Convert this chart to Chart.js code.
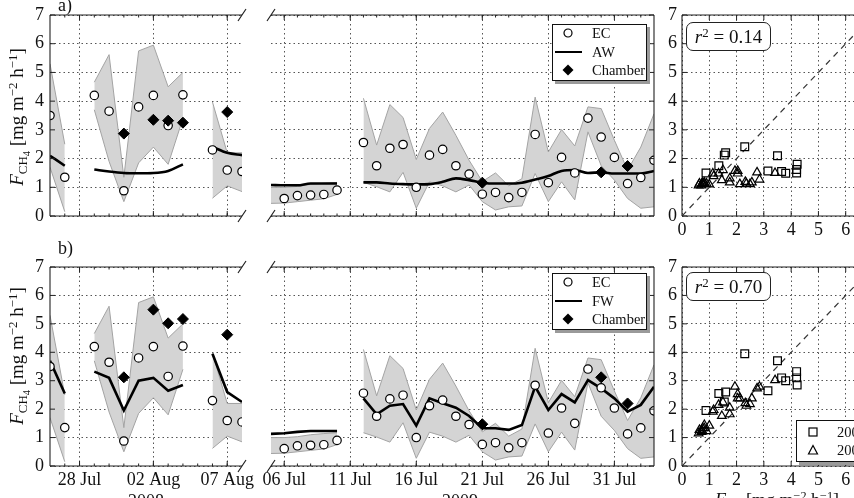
<!DOCTYPE html>
<html><head><meta charset="utf-8">
<script src="https://cdn.jsdelivr.net/npm/chart.js@4/dist/chart.umd.min.js"></script>
<style>
html,body{margin:0;padding:0;background:#fff;}
#wrap{position:relative;width:854px;height:498px;overflow:hidden;font-family:"Liberation Serif","DejaVu Serif",serif;color:#111;background:#fff;}
canvas{position:absolute;}
.t{position:absolute;white-space:nowrap;line-height:1;}
.ytitle{position:absolute;white-space:nowrap;line-height:1;font-size:19px;transform:translate(-50%,-50%) rotate(-90deg);}
sub,sup{font-size:0.68em;line-height:0;}
sub{vertical-align:-0.3em;}
sup{vertical-align:0.5em;}
sub sub{font-size:0.8em;}
.leg{position:absolute;background:#fff;border:1.3px solid #111;box-shadow:3px 3px 0 #9a9a9a;box-sizing:border-box;}
.lt{position:absolute;font-size:14.5px;line-height:16px;white-space:nowrap;}
.mk{position:absolute;}
.r2{position:absolute;border:1.3px solid #222;border-radius:7px;background:#fff;font-size:19px;text-align:center;line-height:27px;box-sizing:border-box;white-space:nowrap;}
</style></head><body>
<div id="wrap">
<canvas id="c1" width="262" height="240" style="left:0;top:0"></canvas>
<canvas id="c2" width="410" height="240" style="left:256px;top:0"></canvas>
<canvas id="c3" width="260" height="245" style="left:640px;top:0"></canvas>
<canvas id="c4" width="262" height="248" style="left:0;top:250px"></canvas>
<canvas id="c5" width="410" height="248" style="left:256px;top:250px"></canvas>
<canvas id="c6" width="260" height="248" style="left:640px;top:250px"></canvas>

<div class="t" style="left:58px;top:-4px;font-size:18px">a)</div>
<div class="t" style="left:58px;top:239px;font-size:18px">b)</div>
<div class="ytitle" style="left:17px;top:117px"><i>F</i><sub>CH<sub>4</sub></sub> [mg m<sup>−2</sup> h<sup>−1</sup>]</div>
<div class="ytitle" style="left:17px;top:356px"><i>F</i><sub>CH<sub>4</sub></sub> [mg m<sup>−2</sup> h<sup>−1</sup>]</div>
<div class="t" style="left:146px;top:492px;font-size:18px;transform:translateX(-50%)">2008</div>
<div class="t" style="left:460px;top:492px;font-size:18px;transform:translateX(-50%)">2009</div>
<div class="t" style="left:777px;top:491px;font-size:18px;transform:translateX(-50%)"><i>F</i><sub>EC</sub> [mg m<sup>−2</sup> h<sup>−1</sup>]</div>

<div class="leg" style="left:552px;top:24px;width:95px;height:57px"></div>
<svg class="mk" style="left:562px;top:27px" width="12" height="12"><circle cx="6" cy="6" r="4" fill="#fff" stroke="#000" stroke-width="1.2"/></svg>
<div class="mk" style="left:555px;top:50.5px;width:27px;height:2.6px;background:#000"></div>
<svg class="mk" style="left:562px;top:64px" width="12" height="12"><polygon points="6,0.5 11.5,6 6,11.5 0.5,6" fill="#000"/></svg>
<div class="lt" style="left:592px;top:25px">EC</div>
<div class="lt" style="left:592px;top:44px">AW</div>
<div class="lt" style="left:592px;top:62px">Chamber</div>

<div class="leg" style="left:552px;top:273px;width:95px;height:57px"></div>
<svg class="mk" style="left:562px;top:276px" width="12" height="12"><circle cx="6" cy="6" r="4" fill="#fff" stroke="#000" stroke-width="1.2"/></svg>
<div class="mk" style="left:555px;top:299.5px;width:27px;height:2.6px;background:#000"></div>
<svg class="mk" style="left:562px;top:313px" width="12" height="12"><polygon points="6,0.5 11.5,6 6,11.5 0.5,6" fill="#000"/></svg>
<div class="lt" style="left:592px;top:274px">EC</div>
<div class="lt" style="left:592px;top:293px">FW</div>
<div class="lt" style="left:592px;top:311px">Chamber</div>

<div class="leg" style="left:796px;top:420px;width:100px;height:42px"></div>
<svg class="mk" style="left:807px;top:425.5px" width="12" height="12"><rect x="2" y="2" width="8" height="8" fill="none" stroke="#000" stroke-width="1.2"/></svg>
<svg class="mk" style="left:807px;top:444px" width="12" height="12"><polygon points="6,1.5 10.5,10 1.5,10" fill="none" stroke="#000" stroke-width="1.2"/></svg>
<div class="lt" style="left:837px;top:423.5px">2008</div>
<div class="lt" style="left:837px;top:442px">2009</div>

<div class="r2" style="left:686px;top:22px;width:85px;height:29px"><i>r</i><sup>2</sup> = <span id="r2a"></span></div>
<div class="r2" style="left:686px;top:272px;width:85px;height:29px"><i>r</i><sup>2</sup> = <span id="r2b"></span></div>
</div>

<script>
// ---------------- data ----------------
const days2008 = [26, 27, 28, 29, 30, 31, 32, 33, 34, 35, 36, 37, 38, 39]; // July-day numbering (32 = 01 Aug)
const ec2008       = [3.50, 1.35, null, 4.20, 3.65, 0.88, 3.80, 4.20, 3.15, 4.22, null, 2.30, 1.60, 1.55];
const ecHigh2008   = [5.30, 2.50, null, 4.66, 5.62, 1.35, 5.75, 5.95, 4.50, 5.00, null, 3.97, 2.20, 2.20];
const ecLow2008    = [1.70, 0.15, null, 3.70, 1.90, 0.50, 1.85, 2.40, 1.80, 3.40, null, 0.62, 1.05, 0.85];
const aw2008       = [2.10, 1.75, null, 1.62, 1.55, 1.50, 1.49, 1.50, 1.57, 1.80, null, 2.41, 2.20, 2.12];
const fw2008       = [3.70, 2.55, null, 3.32, 3.10, 1.95, 3.00, 3.10, 2.65, 2.85, null, 3.95, 2.60, 2.25];
const chamberAW2008 = [null, null, null, null, null, 2.87, null, 3.35, 3.32, 3.25, null, null, 3.62, null];
const chamberFW2008 = [null, null, null, null, null, 3.12, null, 5.50, 5.02, 5.17, null, null, 4.62, null];

const days2009 = [5, 6, 7, 8, 9, 10, 11, 12, 13, 14, 15, 16, 17, 18, 19, 20, 21, 22, 23, 24, 25, 26, 27, 28, 29, 30, 31, 32, 33, 34];
const ec2009     = [null, 0.61, 0.71, 0.73, 0.75, 0.90, null, 2.56, 1.75, 2.36, 2.49, 1.00, 2.12, 2.32, 1.75, 1.46, 0.76, 0.82, 0.64, 0.82, 2.84, 1.16, 2.04, 1.50, 3.41, 2.75, 2.04, 1.13, 1.34, 1.94];
const ecHigh2009 = [1.00, 1.00, 1.03, 1.10, 1.14, 1.17, null, 4.10, 2.47, 3.88, 3.43, 1.97, 3.05, 3.62, 2.81, 1.94, 1.20, 1.50, 1.05, 1.30, 4.14, 2.23, 3.01, 2.44, 3.80, 3.74, 2.64, 1.60, 2.40, 3.56];
const ecLow2009  = [0.44, 0.45, 0.50, 0.55, 0.60, 0.75, null, 1.17, 1.02, 0.84, 1.52, 0.27, 1.19, 1.05, 0.84, 1.08, 0.50, 0.21, 0.32, 0.35, 1.48, 0.50, 1.19, 0.56, 2.93, 1.75, 1.25, 0.61, 0.27, 0.32];
const aw2009     = [1.08, 1.07, 1.07, 1.13, 1.13, 1.13, null, 1.17, 1.17, 1.13, 1.11, 1.10, 1.11, 1.19, 1.31, 1.25, 1.16, 1.13, 1.13, 1.16, 1.27, 1.39, 1.57, 1.60, 1.50, 1.52, 1.48, 1.48, 1.48, 1.57];
const fw2009     = [1.13, 1.15, 1.20, 1.23, 1.23, 1.23, null, 2.38, 1.82, 2.12, 2.18, 1.42, 2.38, 2.21, 2.05, 1.76, 1.33, 1.33, 1.27, 1.44, 2.79, 1.97, 2.53, 2.24, 3.02, 2.73, 2.38, 1.91, 2.15, 2.79];
const chamberAW2009 = [null, null, null, null, null, null, null, null, null, null, null, null, null, null, null, null, 1.16, null, null, null, null, null, null, null, null, 1.52, null, 1.74, null, null];
const chamberFW2009 = [null, null, null, null, null, null, null, null, null, null, null, null, null, null, null, null, 1.47, null, null, null, null, null, null, null, null, 3.12, null, 2.20, null, null];

const range2008 = [26, 39];
const range2009 = [5, 34];
const tickDays2008 = [28, 33, 38];
const tickDays2009 = [6, 11, 16, 21, 26, 31];
const fluxTicks = [0, 1, 2, 3, 4, 5, 6, 7];
const oneToOne = [0, 7];
const r2AW = '0.14';
const r2FW = '0.70';
// --------------------------------------------------------------

document.getElementById('r2a').textContent = r2AW;
document.getElementById('r2b').textContent = r2FW;

Chart.defaults.font.family = '"Liberation Serif", "DejaVu Serif", serif';
Chart.defaults.font.size = 18;
Chart.defaults.color = '#111';

function dayLabel(d) {
  return d <= 31 ? String(d).padStart(2, '0') + ' Jul' : String(d - 31).padStart(2, '0') + ' Aug';
}
function series(days, vals) { return days.map((d, i) => ({ x: d, y: vals[i] })); }
function pairs(xv, yv) {
  const out = [];
  xv.forEach((v, i) => { if (v != null && yv[i] != null) out.push({ x: v, y: yv[i] }); });
  return out;
}
function fixAxis(size) {
  return function (s) {
    if (s.isHorizontal()) s.height = size; else s.width = size;
    s.paddingLeft = 0; s.paddingRight = 0; s.paddingTop = 0; s.paddingBottom = 0;
  };
}

const framePlugin = {
  id: 'frame',
  afterDraw(chart, args, o) {
    if (!o || !o.sides) return;
    const { ctx, chartArea: a, scales } = chart;
    const xs = scales.x, ys = scales.y, S = o.sides;
    ctx.save();
    ctx.strokeStyle = '#222';
    ctx.lineWidth = 1.1;
    ctx.beginPath();
    if (S.includes('left')) { ctx.moveTo(a.left, a.top); ctx.lineTo(a.left, a.bottom); }
    if (S.includes('right')) { ctx.moveTo(a.right, a.top); ctx.lineTo(a.right, a.bottom); }
    if (S.includes('top')) { ctx.moveTo(a.left, a.top); ctx.lineTo(a.right, a.top); }
    if (S.includes('bottom')) { ctx.moveTo(a.left, a.bottom); ctx.lineTo(a.right, a.bottom); }
    ctx.stroke();
    ctx.lineWidth = 1;
    ctx.beginPath();
    const xTick = (v, len) => {
      const p = xs.getPixelForValue(v);
      if (p < a.left + 0.5 || p > a.right - 0.5) return;
      if (S.includes('bottom')) { ctx.moveTo(p, a.bottom); ctx.lineTo(p, a.bottom - len); }
      if (S.includes('top')) { ctx.moveTo(p, a.top); ctx.lineTo(p, a.top + len); }
    };
    xs.ticks.forEach(t => xTick(t.value, o.major));
    if (o.minorStep) for (let v = Math.ceil(xs.min); v <= xs.max; v += o.minorStep) xTick(v, o.minor);
    ys.ticks.forEach(t => {
      const p = ys.getPixelForValue(t.value);
      if (S.includes('left')) { ctx.moveTo(a.left, p); ctx.lineTo(a.left + o.major, p); }
      if (S.includes('right')) { ctx.moveTo(a.right, p); ctx.lineTo(a.right - o.major, p); }
    });
    ctx.stroke();
    if (o.slashes) {
      ctx.lineWidth = 1.2;
      ctx.beginPath();
      o.slashes.forEach(c => {
        const cx = c[1] === 'r' ? a.right : a.left;
        const cy = c[0] === 't' ? a.top : a.bottom;
        ctx.moveTo(cx - 4, cy + 6); ctx.lineTo(cx + 4, cy - 6);
      });
      ctx.stroke();
    }
    ctx.restore();
  }
};
Chart.register(framePlugin);

const gridOpts = { color: '#555', lineWidth: 1, drawTicks: false };
const borderOpts = { display: false, dash: [1.5, 3] };

function timeChart(id, c) {
  return new Chart(document.getElementById(id), {
    type: 'line',
    data: {
      datasets: [
        { label: 'Chamber', data: series(c.days, c.chamber), showLine: false, pointStyle: 'rectRot', pointRadius: 5.5,
          backgroundColor: '#000', borderColor: '#000', borderWidth: 1, order: 0, clip: 0 },
        { label: 'EC', data: series(c.days, c.ec), showLine: false, pointStyle: 'circle', pointRadius: 4.2,
          backgroundColor: '#fff', borderColor: '#000', borderWidth: 1.2, order: 1, clip: 0 },
        { label: c.modelName, data: series(c.days, c.model), borderColor: '#000', borderWidth: 2.6, pointRadius: 0,
          cubicInterpolationMode: c.smooth ? 'monotone' : 'default', fill: false, order: 2, clip: 0 },
        { label: 'EC high', data: series(c.days, c.hi), borderColor: '#a3a3a3', borderWidth: 1, backgroundColor: '#d4d4d4',
          fill: '+1', pointRadius: 0, order: 4, clip: 0 },
        { label: 'EC low', data: series(c.days, c.lo), borderColor: '#a3a3a3', borderWidth: 1, fill: false,
          pointRadius: 0, order: 3, clip: 0 }
      ]
    },
    options: {
      responsive: false, animation: false, devicePixelRatio: 1,
      layout: { padding: c.pad },
      events: [],
      plugins: { legend: { display: false }, tooltip: { enabled: false },
        frame: { sides: c.sides, slashes: c.slashes, major: 5, minor: 2.5, minorStep: 1 } },
      scales: {
        x: { type: 'linear', min: c.range[0], max: c.range[1],
          afterBuildTicks: s => { s.ticks = c.majors.map(v => ({ value: v })); },
          afterFit: fixAxis(c.xh),
          ticks: { display: c.showX, autoSkip: false, maxRotation: 0, padding: 3, callback: v => dayLabel(v) },
          grid: gridOpts, border: borderOpts },
        y: { type: 'linear', min: 0, max: 7,
          afterBuildTicks: s => { s.ticks = fluxTicks.map(v => ({ value: v })); },
          afterFit: fixAxis(c.yw),
          ticks: { display: c.showY, padding: 6 },
          grid: gridOpts, border: borderOpts }
      }
    }
  });
}

function scatterChart(id, c) {
  return new Chart(document.getElementById(id), {
    type: 'scatter',
    data: {
      datasets: [
        { label: '2008', data: pairs(ec2008, c.m2008), pointStyle: 'rect', pointRadius: 5.5,
          backgroundColor: 'rgba(255,255,255,0)', borderColor: '#000', borderWidth: 1.2, clip: 0 },
        { label: '2009', data: pairs(ec2009, c.m2009), pointStyle: 'triangle', pointRadius: 5,
          backgroundColor: 'rgba(255,255,255,0)', borderColor: '#000', borderWidth: 1.2, clip: 0 },
        { type: 'line', label: '1:1', data: oneToOne.map(v => ({ x: v, y: v })), borderColor: '#333',
          borderWidth: 1.2, borderDash: [6, 5], pointRadius: 0, fill: false, clip: 0 }
      ]
    },
    options: {
      responsive: false, animation: false, devicePixelRatio: 1,
      layout: { padding: c.pad },
      events: [],
      plugins: { legend: { display: false }, tooltip: { enabled: false },
        frame: { sides: ['left', 'right', 'top', 'bottom'], major: 5 } },
      scales: {
        x: { type: 'linear', min: 0, max: 7,
          afterBuildTicks: s => { s.ticks = fluxTicks.map(v => ({ value: v })); },
          afterFit: fixAxis(c.xh),
          ticks: { autoSkip: false, maxRotation: 0, padding: 3 },
          grid: gridOpts, border: borderOpts },
        y: { type: 'linear', min: 0, max: 7,
          afterBuildTicks: s => { s.ticks = fluxTicks.map(v => ({ value: v })); },
          afterFit: fixAxis(c.yw),
          ticks: { padding: 5 },
          grid: gridOpts, border: borderOpts }
      }
    }
  });
}

timeChart('c1', { days: days2008, ec: ec2008, hi: ecHigh2008, lo: ecLow2008, model: aw2008, modelName: 'AW',
  chamber: chamberAW2008, smooth: true, range: range2008, majors: tickDays2008, showX: false, showY: true,
  pad: { left: 0, right: 20, top: 15, bottom: 0 }, yw: 50, xh: 24, sides: ['left', 'top', 'bottom'], slashes: ['tr', 'br'] });
timeChart('c2', { days: days2009, ec: ec2009, hi: ecHigh2009, lo: ecLow2009, model: aw2009, modelName: 'AW',
  chamber: chamberAW2009, smooth: true, range: range2009, majors: tickDays2009, showX: false, showY: false,
  pad: { left: 15, right: 12, top: 15, bottom: 0 }, yw: 0, xh: 24, sides: ['right', 'top', 'bottom'], slashes: ['tl', 'bl'] });
timeChart('c4', { days: days2008, ec: ec2008, hi: ecHigh2008, lo: ecLow2008, model: fw2008, modelName: 'FW',
  chamber: chamberFW2008, smooth: false, range: range2008, majors: tickDays2008, showX: true, showY: true,
  pad: { left: 0, right: 20, top: 17, bottom: 0 }, yw: 50, xh: 32, sides: ['left', 'top', 'bottom'], slashes: ['tr', 'br'] });
timeChart('c5', { days: days2009, ec: ec2009, hi: ecHigh2009, lo: ecLow2009, model: fw2009, modelName: 'FW',
  chamber: chamberFW2009, smooth: false, range: range2009, majors: tickDays2009, showX: true, showY: false,
  pad: { left: 15, right: 12, top: 17, bottom: 0 }, yw: 0, xh: 32, sides: ['right', 'top', 'bottom'], slashes: ['tl', 'bl'] });
scatterChart('c3', { m2008: aw2008, m2009: aw2009, pad: { left: 0, right: 27, top: 15, bottom: 0 }, yw: 42, xh: 29 });
scatterChart('c6', { m2008: fw2008, m2009: fw2009, pad: { left: 0, right: 27, top: 17, bottom: 0 }, yw: 42, xh: 32 });
</script>
</body></html>
